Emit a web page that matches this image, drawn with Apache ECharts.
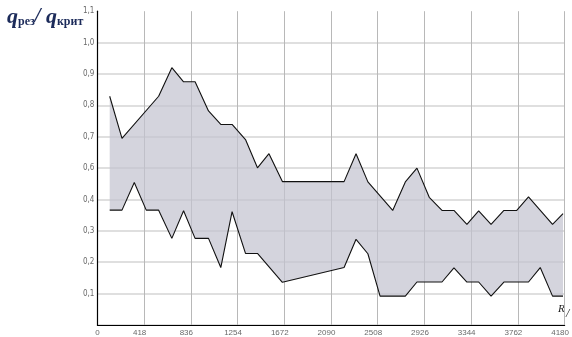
<!DOCTYPE html>
<html>
<head>
<meta charset="utf-8">
<script src="https://cdn.jsdelivr.net/npm/echarts@6/dist/echarts.min.js"></script>
<style>
  html, body { margin: 0; padding: 0; background: #fff; }
  #chart { width: 572px; height: 337px; }
</style>
</head>
<body>
<div id="chart"></div>
<script>
// Upper boundary of the band: R and q_рез / q_крит
const upperR = [110, 220, 548, 666, 771, 874, 994, 1104, 1205, 1325, 1432, 1535, 1655, 2207, 2314,
  2420, 2642, 2755, 2859, 2969, 3083, 3190, 3306, 3411, 3522, 3637, 3752, 3857, 4072, 4166];
const upperQ = [0.729, 0.595, 0.729, 0.820, 0.775, 0.775, 0.682, 0.639, 0.639, 0.591, 0.501, 0.546, 0.457, 0.457, 0.546,
  0.456, 0.365, 0.456, 0.500, 0.407, 0.365, 0.365, 0.321, 0.364, 0.321, 0.365, 0.365, 0.408, 0.321, 0.355];

// Lower boundary of the band
const lowerR = [110, 220, 330, 437, 548, 666, 771, 874, 994, 1104, 1205, 1325, 1432, 1655, 2207,
  2314, 2420, 2529, 2755, 2859, 3083, 3190, 3306, 3411, 3522, 3637, 3857, 3962, 4072, 4166];
const lowerQ = [0.366, 0.366, 0.454, 0.366, 0.366, 0.276, 0.364, 0.276, 0.276, 0.183, 0.361, 0.228, 0.228, 0.136, 0.183,
  0.273, 0.227, 0.092, 0.092, 0.137, 0.137, 0.182, 0.137, 0.137, 0.092, 0.137, 0.137, 0.183, 0.092, 0.092];

// Axis tick labels
const xTicks = [0, 418, 836, 1254, 1672, 2090, 2508, 2926, 3344, 3762, 4180];
const yTickLabels = ['', '0,1', '0,2', '0,3', '0,4', '0,6', '0,7', '0,8', '0,9', '1,0', '1,1'];

const upperPts = upperR.map((r, i) => [r, upperQ[i]]);
const lowerPts = lowerR.map((r, i) => [r, lowerQ[i]]);

const chart = echarts.init(document.getElementById('chart'), null, { renderer: 'canvas' });

const axisFont = { color: '#6a6a6a', fontSize: 8 };

chart.setOption({
  animation: false,
  backgroundColor: '#ffffff',
  grid: { left: 97.4, right: 6.6, top: 11.2, bottom: 11.3, containLabel: false },
  xAxis: {
    type: 'value',
    min: 0,
    max: xTicks[xTicks.length - 1],
    interval: xTicks[1] - xTicks[0],
    axisLine: { show: true, lineStyle: { color: '#000', width: 1.2 } },
    axisTick: { show: false },
    axisLabel: {
      ...axisFont,
      fontFamily: 'Liberation Sans, Arial, sans-serif',
      margin: 4,
      formatter: v => (v === 0 ? '{z|0}' : '{n|' + v + '}'),
      rich: {
        z: { ...axisFont, fontFamily: 'Liberation Sans, Arial, sans-serif' },
        n: { ...axisFont, fontFamily: 'Liberation Sans, Arial, sans-serif', padding: [0, 9, 0, 0] }
      }
    },
    splitLine: { show: true, lineStyle: { color: '#b8b8b8', width: 1 } }
  },
  yAxis: {
    type: 'value',
    min: 0,
    max: 1.0,
    interval: 0.1,
    axisLine: { show: true, lineStyle: { color: '#000', width: 1.2 } },
    axisTick: { show: false },
    axisLabel: {
      ...axisFont,
      fontFamily: 'Liberation Sans Narrow, DejaVu Sans Condensed, sans-serif',
      margin: 3,
      padding: [5, 0, 0, 0],
      formatter: v => yTickLabels[Math.round(v * 10)] || ''
    },
    splitLine: { show: true, showMaxLine: false, lineStyle: { color: '#d4d4d4', width: 1.6 } }
  },
  graphic: [
    {
      type: 'text',
      left: 7,
      top: 6,
      style: {
        text: '{q|q}{s|рез}{sl|/ }{q|q}{s|крит}',
        rich: {
          q: { fontFamily: 'Liberation Serif, serif', fontStyle: 'italic', fontWeight: 'bold', fontSize: 22, fill: '#1c2b5a' },
          s: { fontFamily: 'Liberation Serif, serif', fontWeight: 'bold', fontSize: 12, fill: '#1c2b5a', padding: [10, 0, 0, 0] },
          sl: { fontFamily: 'Liberation Serif, serif', fontStyle: 'italic', fontWeight: 'bold', fontSize: 21, fill: '#1c2b5a' }
        }
      }
    },
    {
      type: 'text',
      left: 558,
      top: 304,
      style: {
        text: 'R',
        fontFamily: 'Liberation Serif, serif',
        fontStyle: 'italic',
        fontSize: 11,
        fill: '#222'
      }
    },
    {
      type: 'text',
      left: 566,
      top: 308,
      style: {
        text: '/',
        fontFamily: 'Liberation Serif, serif',
        fontStyle: 'italic',
        fontSize: 12,
        fill: '#222'
      }
    }
  ],
  series: [
    {
      // shaded band between the two boundaries
      type: 'custom',
      silent: true,
      z: 1,
      data: [[0, 0]],
      renderItem: function (params, api) {
        const pts = upperPts.map(p => api.coord(p))
          .concat(lowerPts.slice().reverse().map(p => api.coord(p)));
        return {
          type: 'polygon',
          shape: { points: pts },
          style: { fill: 'rgba(196,196,208,0.72)', stroke: null }
        };
      }
    },
    {
      type: 'line',
      data: upperPts,
      symbol: 'none',
      z: 3,
      lineStyle: { color: '#111', width: 1.1 }
    },
    {
      type: 'line',
      data: lowerPts,
      symbol: 'none',
      z: 3,
      lineStyle: { color: '#111', width: 1.1 }
    }
  ]
});
</script>
</body>
</html>
